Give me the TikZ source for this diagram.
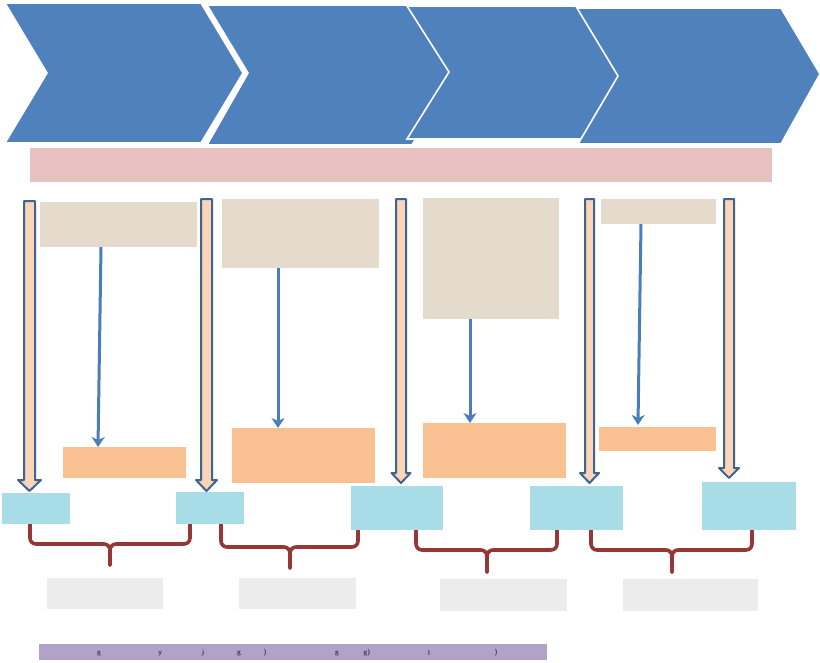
\documentclass[tikz,border=0pt]{standalone}
\usetikzlibrary{arrows.meta}
\definecolor{chev}{HTML}{4F81BD}
\definecolor{pinkbar}{HTML}{E8C1C1}
\definecolor{beige}{HTML}{E4DBCC}
\definecolor{orangebox}{HTML}{F9C191}
\definecolor{peach}{HTML}{FBD5B5}
\definecolor{arrowline}{HTML}{3E6496}
\definecolor{thinblue}{HTML}{4A7EBB}
\definecolor{water}{HTML}{A8DCE7}
\definecolor{bracecol}{HTML}{953735}
\definecolor{greybox}{HTML}{ECECEC}
\definecolor{purplebar}{HTML}{B2A2C7}
\definecolor{bartext}{HTML}{3A3A3A}
\tikzset{
  chevron/.style={fill=chev, draw=white, line width=1.6pt, line join=miter},
  flatbox/.style={rectangle, inner sep=0pt, outer sep=0pt, anchor=north west, draw=none},
  barrow/.style={fill=peach, draw=arrowline, line width=2pt, line join=round},
  thinarrow/.style={draw=thinblue, line width=3pt, -{Stealth[length=10pt,width=13pt,inset=3pt]}},
  bracestyle/.style={draw=bracecol, line width=3.6pt, rounded corners=6pt, line cap=round},
  bartxt/.style={text=bartext, font=\sffamily\bfseries\fontsize{7}{7}\selectfont, inner sep=0pt}
}
\newcommand\blockarrow[6]{%
  \draw[barrow] ({#1-#5},#2) -- ({#1+#5},#2) -- ({#1+#5},#3) -- ({#1+#6},#3) -- (#1,#4)
    -- ({#1-#6},#3) -- ({#1-#5},#3) -- cycle;}
\newcommand\bracketdown[6]{%
  \draw[bracestyle] (#1,#3) -- (#1,#4) -- (#6,#4) -- (#6,#5);
  \draw[bracestyle] (#2,#3) -- (#2,#4) -- (#6,#4) -- (#6,#5);}
\begin{document}
\begin{tikzpicture}[x=1pt,y=-1pt]
\useasboundingbox (0,0) rectangle (820,662);
% chevrons
\draw[chevron] (5,3) -- (201,3) -- (243,73) -- (201,143) -- (5,143) -- (47,73) -- cycle;
\draw[chevron] (207,5) -- (412,5) -- (454,75) -- (412,145) -- (207,145) -- (248,73) -- cycle;
\draw[chevron] (407,6) -- (597,6) -- (639,72) -- (597,139) -- (407,139) -- (449,72) -- cycle;
\draw[chevron] (577,8) -- (781,8) -- (820,74) -- (781,144) -- (578,144) -- (618,76) -- cycle;
% pink band
\node[flatbox, fill=pinkbar, minimum width=742pt, minimum height=34pt] (band) at (30,148) {};
% beige boxes
\node[flatbox, fill=beige, minimum width=157pt, minimum height=45pt] (b1) at (40,202) {};
\node[flatbox, fill=beige, minimum width=157pt, minimum height=69pt] (b2) at (222,199) {};
\node[flatbox, fill=beige, minimum width=136pt, minimum height=121pt] (b3) at (423,198) {};
\node[flatbox, fill=beige, minimum width=115pt, minimum height=25pt] (b4) at (601,199) {};
% orange boxes
\node[flatbox, fill=orangebox, minimum width=123pt, minimum height=31pt] (o1) at (63,447) {};
\node[flatbox, fill=orangebox, minimum width=143pt, minimum height=55pt] (o2) at (232,428) {};
\node[flatbox, fill=orangebox, minimum width=143pt, minimum height=55pt] (o3) at (423,423) {};
\node[flatbox, fill=orangebox, minimum width=117pt, minimum height=24pt] (o4) at (599,427) {};
% thin arrows
\coordinate (c1s) at (101,247); \coordinate (c1e) at (98,447);
\coordinate (c2s) at (278,268); \coordinate (c2e) at (278,428);
\coordinate (c3s) at (470,319); \coordinate (c3e) at (470,423);
\coordinate (c4s) at (641,224); \coordinate (c4e) at (638,425);
\draw[thinarrow] (c1s) -- (c1e);
\draw[thinarrow] (c2s) -- (c2e);
\draw[thinarrow] (c3s) -- (c3e);
\draw[thinarrow] (c4s) -- (c4e);
% brackets
\bracketdown{30}{190}{524}{544}{565}{110}
\bracketdown{221}{358}{524}{547}{568}{290}
\bracketdown{416}{557}{530}{550}{572}{487}
\bracketdown{591}{752}{530}{550}{572}{672}
% water boxes
\node[flatbox, fill=water, minimum width=68pt, minimum height=31pt] (w1) at (2,493) {};
\node[flatbox, fill=water, minimum width=68pt, minimum height=32pt] (w2) at (176,492) {};
\node[flatbox, fill=water, minimum width=92pt, minimum height=44pt] (w3) at (351,486) {};
\node[flatbox, fill=water, minimum width=93pt, minimum height=44pt] (w4) at (530,486) {};
\node[flatbox, fill=water, minimum width=94pt, minimum height=48pt] (w5) at (702,482) {};
% block arrows
\blockarrow{29.5}{201}{480}{491}{5.5}{11.5}
\blockarrow{206.5}{199}{480}{491}{5.5}{10.5}
\blockarrow{401}{199}{473}{483}{5}{9.5}
\blockarrow{589.5}{199}{473}{483}{4.5}{9.5}
\blockarrow{729}{199}{468}{478}{5}{10}
% grey boxes
\node[flatbox, fill=greybox, minimum width=116pt, minimum height=31pt] (g1) at (47,578) {};
\node[flatbox, fill=greybox, minimum width=117pt, minimum height=31pt] (g2) at (239,578) {};
\node[flatbox, fill=greybox, minimum width=127pt, minimum height=32pt] (g3) at (440,579) {};
\node[flatbox, fill=greybox, minimum width=135pt, minimum height=32pt] (g4) at (623,579) {};
% purple bar
\node[flatbox, fill=purplebar, minimum width=508pt, minimum height=16pt] (pbar) at (39,644) {};
\node[bartxt] (t1) at (99,654) {g};
\node[bartxt] (t2) at (160,654) {y};
\node[bartxt] (t3) at (203,653) {j};
\node[bartxt] (t4) at (239,654) {g};
\node[bartxt] (t5) at (265,653) {)};
\node[bartxt] (t6) at (337,654) {g};
\node[bartxt] (t7) at (367,653) {g)};
\node[bartxt] (t8) at (429,653) {l};
\node[bartxt] (t9) at (496,653) {)};
\end{tikzpicture}
\end{document}
